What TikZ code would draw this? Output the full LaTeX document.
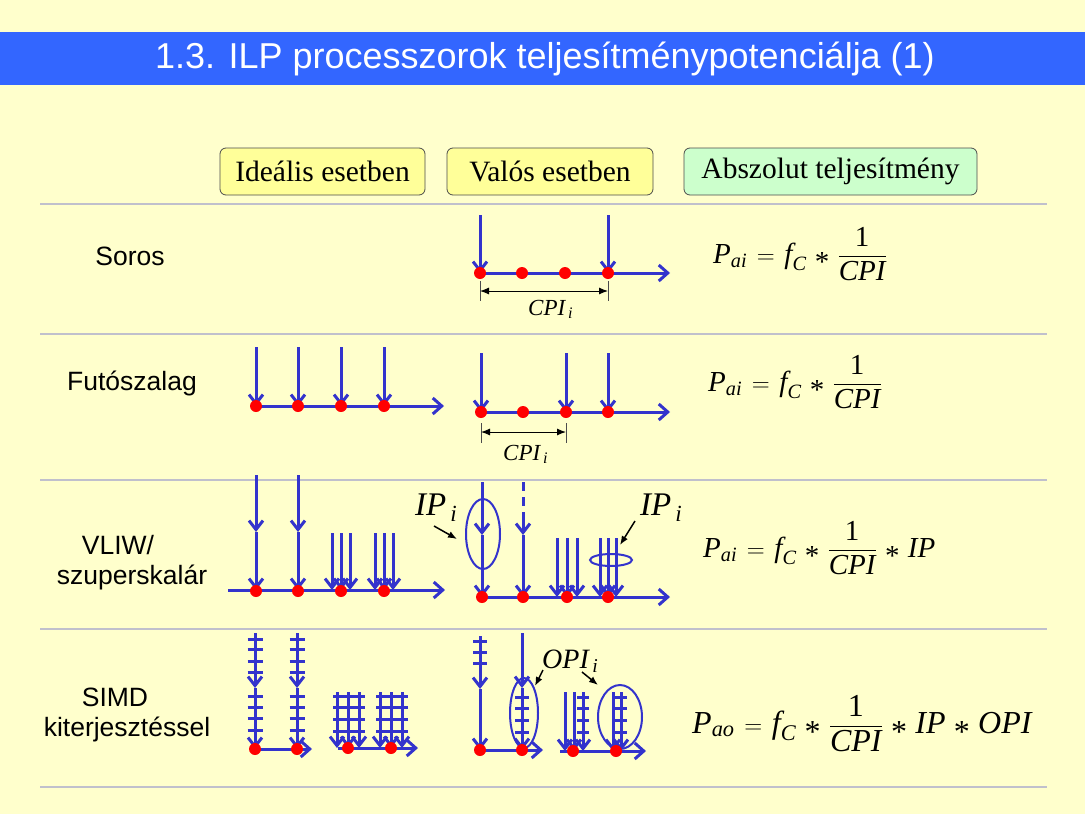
\documentclass[tikz,border=0pt]{standalone}
\usepackage{fontspec}
\usepackage{amsmath}
\setmainfont{Liberation Serif}
\newfontfamily\sansf{Liberation Sans}
\usetikzlibrary{arrows.meta}
\definecolor{bg}{RGB}{255,255,204}
\definecolor{titlebar}{RGB}{51,102,255}
\definecolor{ablue}{RGB}{51,51,204}
\definecolor{rdot}{RGB}{255,0,0}
\definecolor{boxy}{RGB}{255,255,153}
\definecolor{boxg}{RGB}{204,255,204}
\definecolor{sepc}{RGB}{192,192,204}
\newcommand\eqast{\mathbin{\raisebox{-0.3em}{*}}}
\newcommand\ti[1]{\textit{#1}}
\newcommand\midarr[4]{\draw[farr] (#1,#2) -- (#1,#3); \draw[farr] (#1,#3) -- (#1,#4);}
\newcommand\ticks[3]{\foreach \yy in {#3} {\draw[flow] (#1-#2,\yy) -- (#1+#2,\yy);}}
\newcommand\eqsp{\medmuskip=6mu plus 2mu\thickmuskip=7mu plus 3mu}
\begin{document}
\begin{tikzpicture}[x=1pt,y=-1pt,
  flow/.style={ablue, line width=3pt},
  farr/.style={flow, -{Straight Barb[length=9pt,width=14pt]}},
  tline/.style={flow, -{Straight Barb[length=9pt,width=16pt]}},
  rdotst/.style={fill=rdot},
  sepline/.style={sepc, line width=2pt},
  hdr/.style={draw=black!70, line width=0.8pt, rounded corners=6pt, minimum height=47pt, inner sep=0pt, font=\fontsize{29.5}{32}\selectfont},
  rowlab/.style={font=\sansf\fontsize{26.5}{30}\selectfont, inner sep=0pt},
  eqn/.style={anchor=base west, inner sep=0pt, font=\fontsize{29}{34}\selectfont},
  dimarr/.style={black, line width=1pt, {Latex[length=9pt,width=7pt]}-{Latex[length=9pt,width=7pt]}},
  dimtick/.style={black!70, line width=1pt},
  lblarr/.style={black, line width=1.5pt, -{Latex[length=9pt,width=7pt]}},
  lbl/.style={anchor=base west, inner sep=0pt}
]
\useasboundingbox (0,0) rectangle (1085,814);
\fill[bg] (0,0) rectangle (1085,814);
% title
\fill[titlebar] (0,32) rectangle (1085,85);
\node[text=white, font=\sansf\fontsize{36}{40}\selectfont, inner sep=0pt] (title) at (545,59) {1.3. ILP processzorok teljesítménypotenciálja (1)};
% header boxes
\node[hdr, fill=boxy, minimum width=205pt] (h1) at (322.5,171.5) {Ideális esetben};
\node[hdr, fill=boxy, minimum width=206pt] (h2) at (550,171.5) {Valós esetben};
\node[hdr, fill=boxg, minimum width=293pt] (h3) at (830.5,171.5) {Abszolut teljesítmény};
% separators
\foreach \y in {204,334,480,629,787} \draw[sepline] (40,\y) -- (1047,\y);
% row labels
\node[rowlab] (l1) at (130,256) {Soros};
\node[rowlab] (l2) at (132,383) {Futószalag};
\node[rowlab] (l3a) at (118,545) {VLIW/};
\node[rowlab] (l3b) at (132,577) {szuperskalár};
\node[rowlab] (l4a) at (115,697) {SIMD};
\node[rowlab] (l4b) at (127,729) {kiterjesztéssel};

% ---------- Row 1: Soros ----------
\draw[tline] (480,273) -- (670,273);
\foreach \x in {480,608} \draw[farr] (\x,215) -- (\x,273);
\foreach \x in {480,522,565,608} \fill[rdotst] (\x,273) circle[radius=6pt];
\draw[dimtick] (480,281) -- (480,301);
\draw[dimtick] (608,281) -- (608,301);
\draw[dimarr] (480,291) -- (608,291);
\node[lbl, font=\fontsize{23}{26}\selectfont] at (528,315) {$\ti{CPI}_{\,\ti{i}}$};
\node[eqn] (e1) at (713,263) {$\eqsp\ti{P}_{\ti{ai}} = \ti{f}_{\ti{C}} \eqast \dfrac{\textup{1}}{\ti{CPI}}$};

% ---------- Row 2: Futoszalag ----------
\draw[tline] (256,406) -- (444,406);
\foreach \x in {256,298,341,384} \draw[farr] (\x,347) -- (\x,406);
\foreach \x in {256,298,341,384} \fill[rdotst] (\x,406) circle[radius=6pt];
\draw[tline] (481,412) -- (670,412);
\foreach \x in {481,566,608} \draw[farr] (\x,353) -- (\x,412);
\foreach \x in {481,523,566,608} \fill[rdotst] (\x,412) circle[radius=6pt];
\draw[dimtick] (481,423) -- (481,443);
\draw[dimtick] (566,423) -- (566,443);
\draw[dimarr] (481,432) -- (566,432);
\node[lbl, font=\fontsize{23}{26}\selectfont] at (503,460) {$\ti{CPI}_{\,\ti{i}}$};
\node[eqn] (e2) at (708,391) {$\eqsp\ti{P}_{\ti{ai}} = \ti{f}_{\ti{C}} \eqast \dfrac{\textup{1}}{\ti{CPI}}$};

% ---------- Row 3: VLIW ----------
\draw[tline] (228,590) -- (445,590);
\midarr{256}{475}{532}{590}
\midarr{298}{475}{532}{590}
\foreach \x in {332,341,350,375,384,393} \draw[farr] (\x,533) -- (\x,590);
\foreach \x in {256,298,341,384} \fill[rdotst] (\x,591) circle[radius=6pt];
\draw[tline] (482,597) -- (670,597);
\midarr{482}{482}{535}{597}
\draw[ablue, line width=2pt] (483,534) ellipse[x radius=17pt, y radius=35pt];
\draw[flow, dash pattern=on 9pt off 6pt] (523,482) -- (523,515);
\draw[farr] (523,513) -- (523,535);
\draw[farr] (523,535) -- (523,597);
\foreach \x in {557,567,577,600,608,616} \draw[farr] (\x,538) -- (\x,597);
\draw[ablue, line width=2pt] (611,560) ellipse[x radius=21pt, y radius=6pt];
\foreach \x in {482,523,567,608} \fill[rdotst] (\x,597) circle[radius=6pt];
\node[lbl, font=\fontsize{33}{38}\selectfont] (ip1) at (415,515) {$\ti{IP}_{\,\ti{i}}$};
\node[lbl, font=\fontsize{33}{38}\selectfont] (ip2) at (640,515) {$\ti{IP}_{\,\ti{i}}$};
\draw[lblarr] (434,526) -- (457,539);
\draw[lblarr] (635,521) -- (620,545);
\node[eqn] (e3) at (703,557) {$\eqsp\ti{P}_{\ti{ai}} = \ti{f}_{\ti{C}} \eqast \dfrac{\textup{1}}{\ti{CPI}} \eqast \ti{IP}$};

% ---------- Row 4: SIMD ----------
% ideal
\draw[tline] (255,749) -- (312,749);
\foreach \x in {255,297} {
  \midarr{\x}{633}{688}{749}
  \ticks{\x}{7.5}{639,649,661,672,696,707,718,730}
}
\draw[tline] (338,748) -- (418,748);
\foreach \x in {337,348,359,380,391,402} \draw[farr] (\x,692) -- (\x,748);
\foreach \y in {696,707,719,731} {\draw[flow] (333,\y) -- (365,\y); \draw[flow] (376,\y) -- (408,\y);}
\foreach \x/\y in {255/749,297/749,348/748,391/748} \fill[rdotst] (\x,\y) circle[radius=6pt];
% real
\draw[tline] (480,750) -- (543,750);
\midarr{480}{636}{689}{750}
\ticks{480}{7}{641,652,663}
\midarr{522}{633}{688}{750}
\ticks{522}{7}{697,708,720,732}
\draw[ablue, line width=2pt] (524,713) ellipse[x radius=14pt, y radius=35pt];
\draw[tline] (560,751) -- (646,751);
\foreach \x in {565,574,583,613,621} \draw[farr] (\x,692) -- (\x,751);
\ticks{583}{6}{697,708,720,732}
\ticks{621}{6}{697,708,720,732}
\draw[ablue, line width=2pt] (620,717) ellipse[x radius=22pt, y radius=32pt];
\foreach \x/\y in {480/750,522/750,573/751,616/751} \fill[rdotst] (\x,\y) circle[radius=6pt];
\node[lbl, font=\fontsize{28}{32}\selectfont] (opi) at (542,668) {$\ti{OPI}_{\,\ti{i}}$};
\draw[lblarr] (543,670) -- (535,686);
\draw[lblarr] (582,672) -- (598,685);
\node[eqn, font=\fontsize{32}{38}\selectfont] (e4) at (692,733) {$\eqsp\ti{P}_{\ti{ao}} = \ti{f}_{\ti{C}} \eqast \dfrac{\textup{1}}{\ti{CPI}} \eqast \ti{IP} \eqast \ti{OPI}$};
\end{tikzpicture}
\end{document}
